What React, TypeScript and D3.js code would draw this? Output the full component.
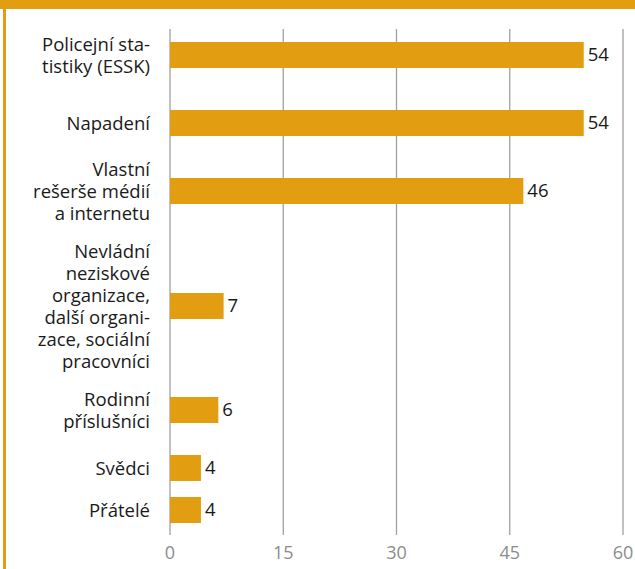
import React from "react";
import * as d3 from "d3";

const categories = [
  "Policejní statistiky (ESSK)",
  "Napadení",
  "Vlastní rešerše médií a internetu",
  "Nevládní neziskové organizace, další organizace, sociální pracovníci",
  "Rodinní příslušníci",
  "Svědci",
  "Přátelé",
];
const labelLines = [
  ["Policejní sta-", "tistiky (ESSK)"],
  ["Napadení"],
  ["Vlastní", "rešerše médií", "a internetu"],
  ["Nevládní", "neziskové", "organizace,", "další organi-", "zace, sociální", "pracovníci"],
  ["Rodinní", "příslušníci"],
  ["Svědci"],
  ["Přátelé"],
];
const values = [54.8, 54.8, 46.8, 7.1, 6.4, 4.1, 4.1];
const valueLabels = ["54", "54", "46", "7", "6", "4", "4"];
const xTicks = [0, 15, 30, 45, 60];

// layout (row centres, in px)
const ROW_CENTERS = [55, 123, 191, 306, 410, 468, 510];

const W = 635;
const H = 569;
const ORANGE = "#E39D10";
const FONT = "'Open Sans', 'Noto Sans', sans-serif";

export default function App() {
  const x = d3.scaleLinear().domain([0, 60]).range([170, 623]);
  const y = d3.scaleOrdinal<string, number>().domain(categories).range(ROW_CENTERS);
  const barH = 26;
  const lh = 22;
  const fs = 18.5;
  const gridTop = 29;
  const gridBottom = 535;

  return (
    <svg
      width={W}
      height={H}
      style={{ position: "absolute", left: 0, top: 0, background: "#fff" }}
      fontFamily={FONT}
    >
      <rect x={0} y={0} width={W} height={9} fill={ORANGE} />
      <rect x={3} y={0} width={3} height={H} fill={ORANGE} />
      {xTicks.map((t) => (
        <g key={t}>
          <line
            x1={x(t)}
            x2={x(t)}
            y1={gridTop}
            y2={gridBottom}
            stroke="#a0a0a0"
            strokeWidth={1.3}
          />
          <text
            x={x(t)}
            y={553}
            dy="0.35em"
            textAnchor="middle"
            fontSize={18}
            fill="#8c8c8c"
          >
            {t}
          </text>
        </g>
      ))}
      {categories.map((c, i) => {
        const cy = y(c) as number;
        const lines = labelLines[i];
        const n = lines.length;
        return (
          <g key={c}>
            <rect
              x={x(0)}
              y={cy - barH / 2}
              width={x(values[i]) - x(0)}
              height={barH}
              fill={ORANGE}
            />
            <text
              x={x(values[i]) + 4}
              y={cy}
              dy="0.35em"
              fontSize={fs}
              fill="#1a1a1a"
            >
              {valueLabels[i]}
            </text>
            {lines.map((l, j) => (
              <text
                key={j}
                x={150}
                y={cy + (j - (n - 1) / 2) * lh + 1}
                dy="0.35em"
                textAnchor="end"
                fontSize={fs}
                fill="#1a1a1a"
              >
                {l}
              </text>
            ))}
          </g>
        );
      })}
    </svg>
  );
}
